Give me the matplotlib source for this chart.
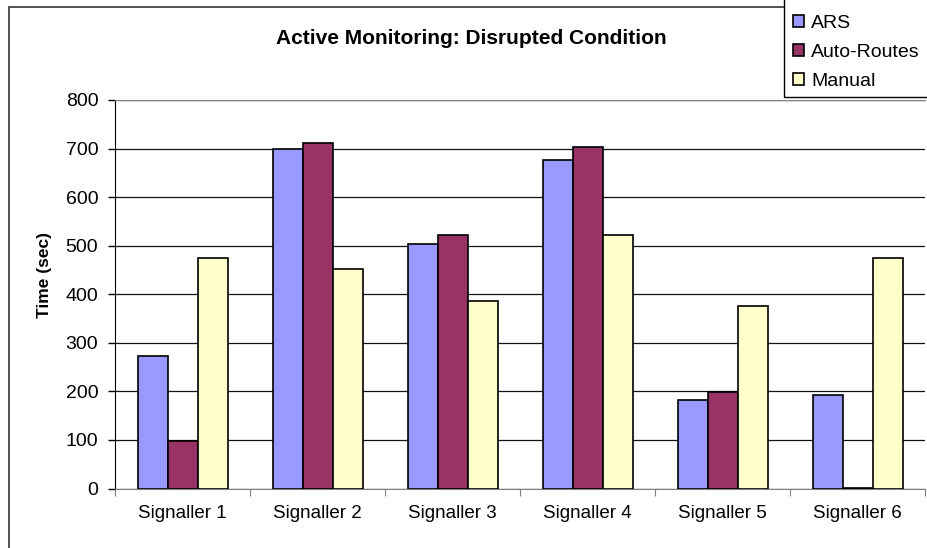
import numpy as np
import matplotlib.pyplot as plt
from matplotlib.patches import Rectangle

plt.rcParams['font.family'] = ['Liberation Sans', 'DejaVu Sans']

# Datos
signallers = ['Signaller 1', 'Signaller 2', 'Signaller 3', 'Signaller 4', 'Signaller 5', 'Signaller 6']
ars = [273, 700, 503, 677, 182, 192]
auto_routes = [98, 712, 522, 703, 198, 2]
manual = [474, 452, 386, 521, 376, 474]

series = [('ARS', ars, '#9999FF'),
          ('Auto-Routes', auto_routes, '#993366'),
          ('Manual', manual, '#FFFFCC')]

fig = plt.figure(figsize=(9.27, 5.48), dpi=100)
ax = fig.add_axes([115 / 927, 1 - 488.5 / 548, 810 / 927, 388.5 / 548])

# Barras agrupadas, tres por señalizador
x = np.arange(len(signallers)) + 0.5
w = 1 / 4.5
handles = []
for j, (name, vals, color) in enumerate(series):
    b = ax.bar(x + (j - 1) * w, vals, w, color=color, edgecolor='black',
               linewidth=1.2, label=name, zorder=3)
    handles.append(b)

ax.set_xlim(0, len(signallers))
ax.set_ylim(0, 800)
ax.set_yticks(range(0, 801, 100))
ax.yaxis.grid(True, color='#111111', linewidth=0.9, zorder=0)

# Marcas en los límites de categoría, etiquetas en el centro
ax.set_xticks(range(len(signallers) + 1))
ax.set_xticklabels([])
ax.set_xticks(x, minor=True)
ax.set_xticklabels(signallers, minor=True, fontsize=13.5)
ax.tick_params(axis='x', which='major', length=5, color='#808080')
ax.tick_params(axis='x', which='minor', length=0, pad=12)
ax.tick_params(axis='y', length=5, width=1, pad=7, labelsize=14)

ax.spines['right'].set_visible(False)
ax.spines['top'].set_color('#808080')
ax.spines['bottom'].set_color('#808080')
ax.spines['left'].set_color('black')

fig.text(471.5 / 927, 1 - 38 / 548, 'Active Monitoring: Disrupted Condition',
         ha='center', va='center', fontsize=15, fontweight='bold')
fig.text(45 / 927, 1 - 275.5 / 548, 'Time (sec)', rotation=90,
         ha='center', va='center', fontsize=12.5, fontweight='bold')

# Leyenda sin marco propio; el recuadro se dibuja aparte y sale del lienzo
leg = fig.legend(handles=handles, loc='lower left',
                 bbox_to_anchor=(793 / 927, 1 - 90 / 548), borderaxespad=0,
                 fontsize=14, handlelength=0.57, handleheight=0.57,
                 handletextpad=0.35, labelspacing=0.62, borderpad=0,
                 frameon=False)
fig.patches.append(Rectangle((784 / 927, 1 - 97 / 548), 0.3, 0.3,
                             transform=fig.transFigure, fill=True,
                             facecolor='white', edgecolor='black',
                             linewidth=1.0, zorder=4))
leg.set_zorder(5)

# Marco exterior del gráfico
fig.patches.append(Rectangle((9 / 927, -0.1), 1.2, 1 - 7 / 548 + 0.1,
                             transform=fig.transFigure, fill=False,
                             edgecolor='#333333', linewidth=1.2))

plt.savefig('out.png', dpi=100)
